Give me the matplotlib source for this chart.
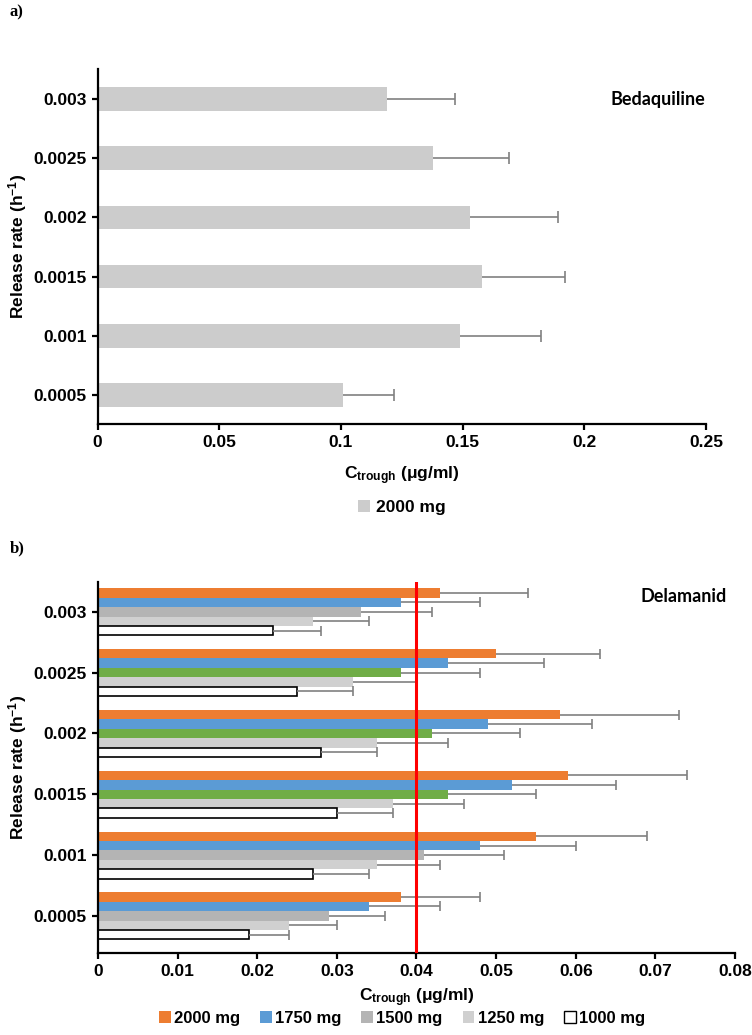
import matplotlib
matplotlib.use('Agg')
import matplotlib.pyplot as plt
from matplotlib.patches import Patch
import numpy as np

plt.rcParams['font.family'] = ['Liberation Sans', 'DejaVu Sans']
plt.rcParams['font.weight'] = 'bold'
plt.rcParams['mathtext.fontset'] = 'custom'
plt.rcParams['mathtext.rm'] = 'Liberation Sans:bold'
plt.rcParams['mathtext.bf'] = 'Liberation Sans:bold'
plt.rcParams['mathtext.it'] = 'Liberation Sans:bold'

# release rates (bottom -> top)
rates = ['0.0005', '0.001', '0.0015', '0.002', '0.0025', '0.003']

# a) bedaquiline, 2000 mg
bdq_mean = [0.101, 0.149, 0.158, 0.153, 0.138, 0.119]
bdq_err = [0.021, 0.033, 0.034, 0.036, 0.031, 0.028]

# b) delamanid by dose
doses = ['2000 mg', '1750 mg', '1500 mg', '1250 mg', '1000 mg']
dlm_2000 = [0.038, 0.055, 0.059, 0.058, 0.050, 0.043]
dlm_1750 = [0.034, 0.048, 0.052, 0.049, 0.044, 0.038]
dlm_1500 = [0.029, 0.041, 0.044, 0.042, 0.038, 0.033]
dlm_1250 = [0.024, 0.035, 0.037, 0.035, 0.032, 0.027]
dlm_1000 = [0.019, 0.027, 0.030, 0.028, 0.025, 0.022]
err_2000 = [0.010, 0.014, 0.015, 0.015, 0.013, 0.011]
err_1750 = [0.009, 0.012, 0.013, 0.013, 0.012, 0.010]
err_1500 = [0.007, 0.010, 0.011, 0.011, 0.010, 0.009]
err_1250 = [0.006, 0.008, 0.009, 0.009, 0.008, 0.007]
err_1000 = [0.005, 0.007, 0.007, 0.007, 0.007, 0.006]
target = 0.04

ORANGE = '#ED7D31'
BLUE = '#5B9BD5'
GRAY = '#B4B4B4'
GREEN = '#70AD47'
LIGHT = '#D0D0D0'
ERRC = '#808080'

fig = plt.figure(figsize=(7.52, 10.35), dpi=100)


def style_axes(ax):
    for s in ['top', 'right']:
        ax.spines[s].set_visible(False)
    for s in ['left', 'bottom']:
        ax.spines[s].set_linewidth(1.6)
    ax.tick_params(axis='both', width=1.6, length=4, labelsize=12.5, pad=4)
    for lab in ax.get_xticklabels() + ax.get_yticklabels():
        lab.set_fontweight('bold')


def upper_err(ax, yy, vals, errs, capsize):
    # one-sided error bar: line from bar end, cap only at the outer end
    vals = np.asarray(vals)
    tops = vals + np.asarray(errs)
    ax.hlines(yy, vals, tops, color=ERRC, linewidth=1.2, zorder=3)
    ax.plot(tops, yy, linestyle='none', marker='|', markersize=capsize,
            markeredgewidth=1.2, color=ERRC, zorder=3)


# ---- panel a ----
ax1 = fig.add_axes([0.1297, 0.5903, 0.8092, 0.343])
y = np.arange(len(rates))
ax1.barh(y, bdq_mean, height=0.4, color='#CCCCCC', zorder=2)
upper_err(ax1, y, bdq_mean, bdq_err, 8)
ax1.set_xlim(0, 0.25)
ax1.set_ylim(-0.49, 5.507)
ax1.set_xticks([0, 0.05, 0.1, 0.15, 0.2, 0.25])
ax1.set_xticklabels(['0', '0.05', '0.1', '0.15', '0.2', '0.25'])
ax1.set_yticks(y)
ax1.set_yticklabels(rates)
style_axes(ax1)
ax1.set_xlabel(r'C$_{\mathrm{trough}}$ (μg/ml)', fontsize=12.5, fontweight='bold', labelpad=10)
ax1.set_ylabel(r'Release rate (h$^{-1}$)', fontsize=12.5, fontweight='bold', labelpad=3)
ax1.text(0.998, 0.913, 'Bedaquiline', transform=ax1.transAxes, ha='right', va='center',
         fontsize=13, fontweight='bold', family=['Lato', 'DejaVu Sans'])
ax1.legend(handles=[Patch(facecolor='#CCCCCC', label='2000 mg')],
           loc='center', bbox_to_anchor=(0.5, -0.235), frameon=False,
           fontsize=12.5, handlelength=0.7, handleheight=0.7, handletextpad=0.3)

# ---- panel b ----
ax2 = fig.add_axes([0.1303, 0.0792, 0.8471, 0.3585])
h = 0.155
series = [dlm_2000, dlm_1750, dlm_1500, dlm_1250, dlm_1000]
errs = [err_2000, err_1750, err_1500, err_1250, err_1000]
col_1500 = [GRAY, GRAY, GREEN, GREEN, GREEN, GRAY]
colors = [ORANGE, BLUE, col_1500, LIGHT, 'white']
for k in range(5):
    off = (2 - k) * h
    edge = 'black' if k == 4 else 'none'
    ax2.barh(y + off, series[k], height=h, color=colors[k], edgecolor=edge,
             linewidth=1.2 if k == 4 else 0, zorder=2)
    upper_err(ax2, y + off, series[k], errs[k], 7)
ax2.axvline(target, color='#FF0000', linewidth=2.2, zorder=5)
ax2.set_xlim(0, 0.08)
ax2.set_ylim(-0.61, 5.49)
ax2.set_xticks(np.arange(0, 0.081, 0.01))
ax2.set_xticklabels(['0', '0.01', '0.02', '0.03', '0.04', '0.05', '0.06', '0.07', '0.08'])
ax2.set_yticks(y)
ax2.set_yticklabels(rates)
style_axes(ax2)
ax2.set_xlabel(r'C$_{\mathrm{trough}}$ (μg/ml)', fontsize=12.5, fontweight='bold', labelpad=5)
ax2.set_ylabel(r'Release rate (h$^{-1}$)', fontsize=12.5, fontweight='bold', labelpad=3)
ax2.text(0.987, 0.96, 'Delamanid', transform=ax2.transAxes, ha='right', va='center',
         fontsize=13, fontweight='bold', family=['Lato', 'DejaVu Sans'])
leg_handles = [Patch(facecolor=ORANGE, label=doses[0]),
               Patch(facecolor=BLUE, label=doses[1]),
               Patch(facecolor=GRAY, label=doses[2]),
               Patch(facecolor=LIGHT, label=doses[3]),
               Patch(facecolor='white', edgecolor='black', linewidth=1, label=doses[4])]
fig.legend(handles=leg_handles, loc='center', bbox_to_anchor=(402 / 752, 1 - 1018 / 1035),
           ncol=5, frameon=False, fontsize=12, handlelength=0.7, handleheight=0.7,
           handletextpad=0.2, columnspacing=1.2)

fig.text(10 / 752, 1 - 12 / 1035, 'a)', fontsize=12, fontweight='bold',
         family=['Liberation Serif', 'DejaVu Serif'], ha='left', va='center')
fig.text(10 / 752, 1 - 548 / 1035, 'b)', fontsize=12, fontweight='bold',
         family=['Liberation Serif', 'DejaVu Serif'], ha='left', va='center')

fig.savefig('out.png', dpi=100)
